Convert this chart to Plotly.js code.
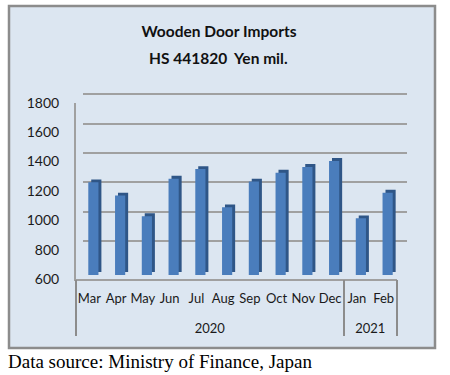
<!DOCTYPE html>
<html>
<head>
<meta charset="utf-8">
<script src="https://cdn.plot.ly/plotly-3.0.1.min.js"></script>
<style>html,body{margin:0;padding:0;background:#fff;}#chart{width:450px;height:375px;}</style>
</head>
<body>
<div id="chart"></div>
<script>
// ---- data ----
var months = ['Mar','Apr','May','Jun','Jul','Aug','Sep','Oct','Nov','Dec','Jan','Feb'];
var years = ['2020','2020','2020','2020','2020','2020','2020','2020','2020','2020','2021','2021'];
var values = [1230, 1140, 1000, 1255, 1320, 1060, 1235, 1295, 1335, 1375, 985, 1160];
var yTicks = [600, 800, 1000, 1200, 1400, 1600, 1800];
var titleLine1 = 'Wooden Door Imports';
var titleLine2 = 'HS 441820  Yen mil.';
var sourceText = 'Data source: Ministry of Finance, Japan';

// ---- year groups derived from the data ----
var yearNames = [], yearCenters = [], yearBounds = [-0.5];
years.forEach(function(y, i){
  if (yearNames.indexOf(y) < 0) yearNames.push(y);
  if (i === years.length-1 || years[i+1] !== y) yearBounds.push(i+0.5);
});
yearNames.forEach(function(y){
  var idx = []; years.forEach(function(v,i){ if(v===y) idx.push(i); });
  yearCenters.push((idx[0]+idx[idx.length-1])/2);
});
var idxs = months.map(function(_, i){ return i; });

// ---- styling / 3D approximation ----
var BASE = 600;
var depthUp = 20;
var barW = 0.38, sideShift = 0.11;

var traces = [
  {type:'scatter', x:months, y:values, xaxis:'x', yaxis:'y',
   mode:'markers', marker:{opacity:0}, hoverinfo:'skip', showlegend:false},
  {type:'scatter', x:idxs, y:values, xaxis:'x4', yaxis:'y',
   mode:'markers', marker:{opacity:0}, hoverinfo:'skip', showlegend:false},
  {type:'scatter', x:idxs, y:values, xaxis:'x5', yaxis:'y',
   mode:'markers', marker:{opacity:0}, hoverinfo:'skip', showlegend:false},
  {type:'scatter', x:months, y:values, xaxis:'x2', yaxis:'y2',
   mode:'markers', marker:{opacity:0}, hoverinfo:'skip', showlegend:false},
  {type:'bar', x:months, y:values.map(function(v){return v-BASE;}),
   base:BASE+depthUp, xaxis:'x3', yaxis:'y3', width:barW, offset:-barW/2+sideShift,
   marker:{color:'#2f5687', line:{width:0}}, hoverinfo:'skip', showlegend:false},
  {type:'bar', x:months, y:values.map(function(v){return v-BASE;}),
   base:BASE, xaxis:'x3', yaxis:'y3', width:barW, offset:-barW/2,
   marker:{color:'#4a7dbc', line:{width:0}}, showlegend:false}
];

var PW = 331, PH = 187; // plot area px (x 76..407, y 92..279)
function px(x){return (x-76)/PW;}
function py(y){return (279-y)/PH;}

var gridColor = '#a0a0a0';
var xDom = [0, 321/PW];
var layout = {
  width:450, height:375,
  margin:{l:76, r:43, t:92, b:96, pad:0},
  paper_bgcolor:'#ffffff', plot_bgcolor:'rgba(0,0,0,0)',
  font:{family:'Lato, "Open Sans", sans-serif', color:'#1a1a1a', size:12},
  barmode:'overlay',
  title:{text:titleLine1, font:{family:'Lato, sans-serif', size:15.5, color:'#111', weight:'bold'},
         xref:'container', x:219/450, xanchor:'center', yref:'container', y:1-32/375, yanchor:'middle'},
  xaxis:{type:'category', domain:xDom, anchor:'y', range:[-0.5, 11.5], tickangle:0,
         showline:true, linecolor:gridColor, linewidth:2, showgrid:false, zeroline:false,
         ticks:'', ticklabelstandoff:6, tickfont:{size:13, color:'#1a1a1a'}},
  xaxis4:{overlaying:'x', anchor:'y', domain:xDom, range:[-0.5, 11.5], tickvals:yearBounds,
          showticklabels:false, ticks:'outside', ticklen:56, tickwidth:2, tickcolor:'#8c8c8c',
          showline:false, showgrid:false, zeroline:false},
  xaxis5:{overlaying:'x', anchor:'y', domain:xDom, range:[-0.5, 11.5], tickvals:yearCenters,
          ticktext:yearNames, ticks:'', ticklabelstandoff:40, tickangle:0,
          showline:false, showgrid:false, zeroline:false, tickfont:{size:13, color:'#1a1a1a'}},
  yaxis:{domain:[0, py(102.7)], range:[600,1800], tickvals:yTicks, anchor:'x',
         showgrid:false, zeroline:false, showline:true, linecolor:gridColor, linewidth:2,
         ticks:'', ticklabelstandoff:12, tickfont:{size:14, color:'#1a1a1a'}},
  xaxis2:{domain:[7/PW, 1], anchor:'y2', visible:false, showgrid:false},
  yaxis2:{domain:[py(270.7), py(92)], range:[600,1814], tickvals:yTicks, anchor:'x2',
          showgrid:true, gridcolor:gridColor, gridwidth:2, showticklabels:false,
          zeroline:false, showline:false, ticks:''},
  xaxis3:{domain:[4/PW, 325/PW], anchor:'y3', visible:false, showgrid:false, range:[-0.5, 11.5]},
  yaxis3:{domain:[py(275), py(98.5)], range:[600,1800], anchor:'x3', visible:false, showgrid:false},
  shapes:[
    {type:'rect', xref:'paper', yref:'paper', layer:'below',
     x0:px(9), x1:px(435), y0:py(348), y1:py(6),
     fillcolor:'#dce6f1', line:{color:'#8c8c8c', width:2.5}}
  ],
  annotations:[
    {text:'<b>'+titleLine2+'</b>', xref:'paper', yref:'paper', x:px(218), y:py(58),
     xanchor:'center', yanchor:'middle', showarrow:false,
     font:{family:'Lato, sans-serif', size:15.5, color:'#111'}},
    {text:sourceText, xref:'paper', yref:'paper', x:px(6), y:py(361),
     xanchor:'left', yanchor:'middle', showarrow:false,
     font:{family:'"Liberation Serif", "Times New Roman", serif', size:19, color:'#000'}}
  ]
};

Plotly.newPlot('chart', traces, layout, {displayModeBar:false, staticPlot:true});
</script>
</body>
</html>
